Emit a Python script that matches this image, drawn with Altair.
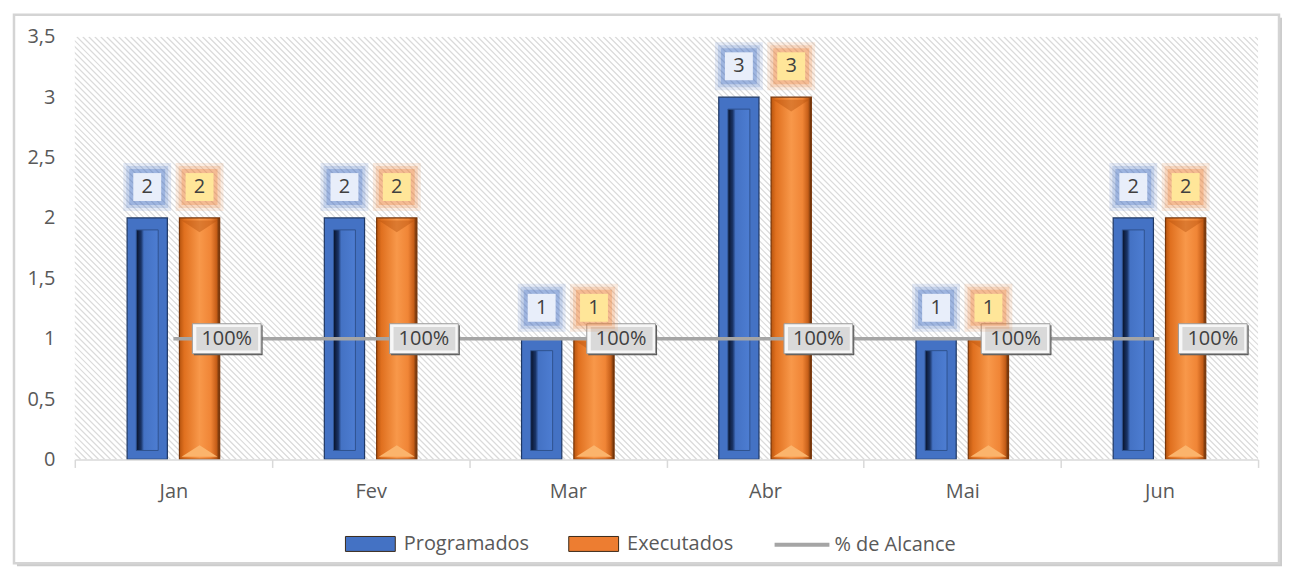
import altair as alt
import pandas as pd

meses = ["Jan", "Fev", "Mar", "Abr", "Mai", "Jun"]
series = ["Programados", "Executados"]
programados = [2, 2, 1, 3, 1, 2]
executados = [2, 2, 1, 3, 1, 2]
alcance = [1.0, 1.0, 1.0, 1.0, 1.0, 1.0]
y_ticks = [0, 0.5, 1, 1.5, 2, 2.5, 3, 3.5]
linha_nome = "% de Alcance"

bars_df = pd.DataFrame({
    "Mes": meses * 2,
    "Serie": [series[0]] * len(meses) + [series[1]] * len(meses),
    "Valor": programados + executados,
})
line_df = pd.DataFrame({"Mes": meses, "Valor": alcance, "Ind": [linha_nome] * len(meses)})

W, H = 1187, 424
FONT = "Open Sans"
TXT = "#595959"

x_enc = alt.X(
    "Mes:N", sort=meses,
    scale=alt.Scale(domain=meses, paddingInner=0, paddingOuter=0),
    axis=alt.Axis(title=None, labelAngle=0, domainColor="#d9d9d9", domainWidth=1.5,
                  tickColor="#d9d9d9", tickWidth=1.5, tickBand="extent", tickSize=8,
                  labelPadding=14, labelFontSize=20, labelColor=TXT, labelFont=FONT,
                  zindex=1),
)
xoff = alt.XOffset("Serie:N", sort=series,
                   scale=alt.Scale(domain=series, paddingInner=0.2308, paddingOuter=1))
y_enc = alt.Y(
    "Valor:Q", scale=alt.Scale(domain=[0, 3.5], nice=False),
    axis=alt.Axis(title=None, values=y_ticks,
                  labelExpr="replace(toString(datum.value), '.', ',')",
                  domain=False, ticks=False, tickSize=0, grid=False, labelPadding=20,
                  labelFontSize=20, labelColor=TXT, labelFont=FONT, zindex=1),
)

one = alt.Data(values=[{"k": 1}])

# chart frame
shadow = alt.Chart(one).mark_rect(fill="#9a9a9a", opacity=0.5).encode(
    x=alt.value(-58), x2=alt.value(1211), y=alt.value(-19), y2=alt.value(531))
frame = alt.Chart(one).mark_rect(fill="white", stroke="#d4d4d4", strokeWidth=2.5).encode(
    x=alt.value(-61), x2=alt.value(1208), y=alt.value(-22), y2=alt.value(528))

# hatched plot background
hatch = alt.Chart(alt.sequence(-430, 1195, 6, as_="x0")).transform_calculate(
    x1=f"datum.x0 + {H}"
).mark_rule(clip=True, color="#dadada", strokeWidth=1.2).encode(
    x=alt.X("x0:Q", scale=None, axis=None), x2="x1:Q",
    y=alt.value(0), y2=alt.value(H))

base = alt.Chart(bars_df)

prog = base.transform_filter(alt.datum.Serie == series[0])
exe = base.transform_filter(alt.datum.Serie == series[1])

blue_outer = prog.mark_bar(fill="#4472C4", stroke="#1f3864", strokeWidth=1.2).encode(
    x=x_enc, xOffset=xoff, y=y_enc, y2=alt.datum(0))
blue_inner = prog.mark_bar(
    width=22, yOffset=12, y2Offset=-9, stroke="#2f528f", strokeWidth=1,
    fill={"gradient": "linear", "x1": 0, "x2": 1, "y1": 0, "y2": 0,
          "stops": [{"offset": 0, "color": "#08122a"}, {"offset": 0.22, "color": "#1a3466"},
                    {"offset": 0.35, "color": "#4472C4"}, {"offset": 1, "color": "#4d7dd2"}]},
).encode(x=x_enc, xOffset=xoff, y=y_enc, y2=alt.datum(0))

orange = exe.mark_bar(
    stroke="#7a3608", strokeWidth=1.2,
    fill={"gradient": "linear", "x1": 0, "x2": 1, "y1": 0, "y2": 0,
          "stops": [{"offset": 0, "color": "#b8550f"}, {"offset": 0.12, "color": "#E0701F"},
                    {"offset": 0.5, "color": "#F8984A"}, {"offset": 0.78, "color": "#F08536"},
                    {"offset": 0.92, "color": "#C65E18"}, {"offset": 1, "color": "#5a2a08"}]},
).encode(x=x_enc, xOffset=xoff, y=y_enc, y2=alt.datum(0))
orange_bottom = exe.mark_point(
    shape="M-1,0.3L0,-0.35L1,0.3Z", size=36 * 36, filled=True, fill="#FBB46C",
    opacity=1, yOffset=-8, strokeWidth=0,
).encode(x=x_enc, xOffset=xoff, y=alt.datum(0))
orange_top = exe.mark_point(
    shape="M-1,-0.3L0,0.35L1,-0.3Z", size=36 * 36, filled=True, fill="#B5500C",
    opacity=0.4, yOffset=8, strokeWidth=0,
).encode(x=x_enc, xOffset=xoff, y=y_enc)

# line
line = alt.Chart(line_df).mark_line(strokeWidth=3.5).encode(
    x=x_enc, y=y_enc,
    stroke=alt.Stroke("Ind:N", scale=alt.Scale(domain=[linha_nome], range=["#A5A5A5"]),
                      legend=alt.Legend(title=None, orient="none", legendX=700, legendY=480,
                                        symbolType="stroke", symbolSize=55 * 55,
                                        symbolStrokeWidth=4, labelOffset=3,
                                        labelFontSize=20, labelColor=TXT, labelFont=FONT)))
lbox_shadow = alt.Chart(line_df).mark_point(
    shape="M-1,-0.435H1V0.435H-1Z", size=69 * 69, filled=True, fill="#5a5a5a",
    strokeWidth=0, opacity=1, xOffset=55, yOffset=1.5,
).encode(x=x_enc, y=y_enc)
lbox_outer = alt.Chart(line_df).mark_point(
    shape="M-1,-0.435H1V0.435H-1Z", size=69 * 69, filled=True, fill="#f7f7f7",
    stroke="#9a9a9a", strokeWidth=1, opacity=1, xOffset=53.5,
).encode(x=x_enc, y=y_enc)
lbox_inner = alt.Chart(line_df).mark_point(
    shape="M-1,-0.38H1V0.38H-1Z", size=62 * 62, filled=True, fill="#d9d9d9",
    strokeWidth=0, opacity=1, xOffset=54,
).encode(x=x_enc, y=y_enc)
ltext = alt.Chart(line_df).mark_text(
    dx=53.5, fontSize=20, font=FONT, color="#404040", baseline="middle"
).encode(x=x_enc, y=y_enc, text=alt.Text("Valor:Q", format=".0%"))

# bar value labels (soft glow + box + text)
glow_expr = {"expr": f"datum.Serie == '{series[0]}' ? '#4472C4' : '#ED7D31'"}
glow_a = base.mark_square(size=48 * 48, opacity=0.14, yOffset=-31, fill=glow_expr,
                          strokeWidth=0).encode(x=x_enc, xOffset=xoff, y=y_enc)
glow_b = base.mark_square(size=42 * 42, opacity=0.2, yOffset=-31, fill=glow_expr,
                          strokeWidth=0).encode(x=x_enc, xOffset=xoff, y=y_enc)
glow = base.mark_square(size=36 * 36, opacity=0.3, yOffset=-31).encode(
    x=x_enc, xOffset=xoff, y=y_enc,
    color=alt.Color("Serie:N", sort=series,
                    scale=alt.Scale(domain=series, range=["#4472C4", "#ED7D31"]),
                    legend=alt.Legend(title=None, orient="none", legendX=271, legendY=483,
                                      direction="horizontal",
                                      symbolType="M-1,-0.3H1V0.3H-1Z", symbolSize=50 * 50,
                                      symbolOpacity=1, symbolStrokeColor="#3a2a1a",
                                      symbolStrokeWidth=1, labelOffset=8, columnPadding=37,
                                      labelFontSize=20, labelColor=TXT, labelFont=FONT)))
lbl_box = base.mark_square(size=28 * 28, opacity=1, yOffset=-31, strokeWidth=0).encode(
    x=x_enc, xOffset=xoff, y=y_enc,
    fill=alt.Fill("Serie:N", sort=series,
                  scale=alt.Scale(domain=series, range=["#E8EEFA", "#FFE699"]), legend=None))
lbl_txt = base.mark_text(dy=-31, fontSize=20, font=FONT, color="#404040",
                         baseline="middle").encode(
    x=x_enc, xOffset=xoff, y=y_enc, text="Valor:Q")

chart = alt.layer(
    shadow, frame, hatch, blue_outer, blue_inner, orange, orange_bottom, orange_top,
    line, lbox_shadow, lbox_outer, lbox_inner, ltext, glow_a, glow_b, glow, lbl_box, lbl_txt
).properties(
    width=W, height=H,
    autosize=alt.AutoSizeParams(type="none"),
    padding={"left": 67, "top": 28, "right": 24, "bottom": 108},
    background="white",
).configure_view(strokeOpacity=0).configure(font=FONT)

chart.save("out.html", embed_options={"renderer": "svg", "actions": False})
